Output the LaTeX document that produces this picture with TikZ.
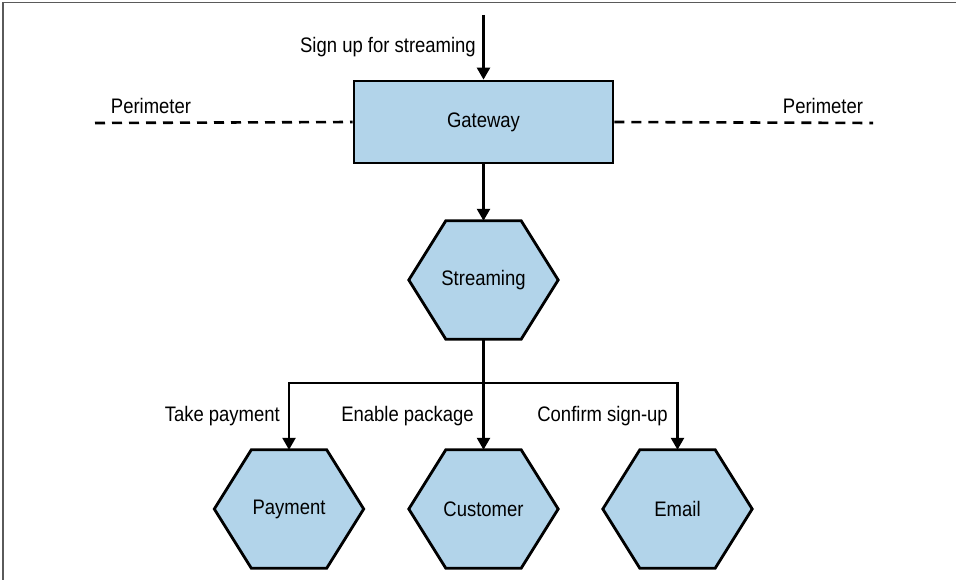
\documentclass[tikz,border=0pt]{standalone}
\usepackage{fontspec}
\setmainfont[FakeStretch=0.88]{Liberation Sans}
\usetikzlibrary{arrows.meta}
\pgfdeclarelayer{bg}
\pgfsetlayers{bg,main}
\definecolor{boxblue}{RGB}{178,212,234}
\definecolor{framegray}{RGB}{90,90,90}
\tikzset{
  lbl/.style={font=\fontsize{21}{24}\selectfont, inner sep=0pt},
  gatebox/.style={draw=black, line width=2.8pt, fill=boxblue, minimum width=259pt, minimum height=82pt, inner sep=0pt, font=\fontsize{21}{24}\selectfont},
  hexn/.style={minimum width=149pt, minimum height=118pt, inner sep=0pt, font=\fontsize{21}{24}\selectfont},
  hexline/.style={draw=black, line width=2.8pt, fill=boxblue, line join=miter},
  conn/.style={line width=2.5pt, -{Triangle[length=12pt,width=13pt]}},
  plain/.style={line width=2.5pt},
  perim/.style={line width=2.6pt, dash pattern=on 10pt off 7pt},
}
\newcommand\hexshape[1]{%
  \begin{pgfonlayer}{bg}
  \path[hexline] (#1.west) -- ([xshift=37pt]#1.north west) -- ([xshift=-37pt]#1.north east) -- (#1.east) -- ([xshift=-37pt]#1.south east) -- ([xshift=37pt]#1.south west) -- cycle;
  \end{pgfonlayer}}
\begin{document}
\begin{tikzpicture}[x=1pt,y=-1pt]
\useasboundingbox (0,0) rectangle (956,580);
% frame
\draw[framegray, line width=1.8pt] (3,580) -- (3,2.5) -- (956,2.5);
% nodes
\coordinate (entry) at (483.5,15);
\node[gatebox] (gw) at (483.5,122) {\raisebox{-2pt}{Gateway}};
\node[hexn] (st) at (483.5,280) {Streaming};
\node[hexn] (pay) at (289,509) {Payment};
\node[hexn] (cus) at (483.5,509) {Customer};
\node[hexn] (em) at (677.5,509) {Email};
\hexshape{st}
\hexshape{pay}
\hexshape{cus}
\hexshape{em}
% perimeter
\coordinate (pl) at (95,123);
\coordinate (pr) at (873,123);
\draw[perim] (pl) -- (gw.west);
\draw[perim] (gw.east) -- (pr);
\node[lbl] (plab) at (151,106) {Perimeter};
\node[lbl] (prlab) at (823,106) {Perimeter};
% connectors
\draw[conn] (entry) -- (gw.north);
\node[lbl, anchor=east] (lsign) at (476,47) {Sign up for streaming};
\draw[conn] (gw.south) -- (st.north);
\coordinate (br) at (483.5,383);
\draw[plain] (st.south) -- (br);
\draw[conn] (br) -| (pay.north);
\draw[conn] (br) -| (em.north);
\draw[conn] (br) -- (cus.north);
\node[lbl, anchor=east] (l1) at (280,416) {Take payment};
\node[lbl, anchor=east] (l2) at (474,416) {Enable package};
\node[lbl, anchor=east] (l3) at (668,416) {Confirm sign-up};
\end{tikzpicture}
\end{document}
